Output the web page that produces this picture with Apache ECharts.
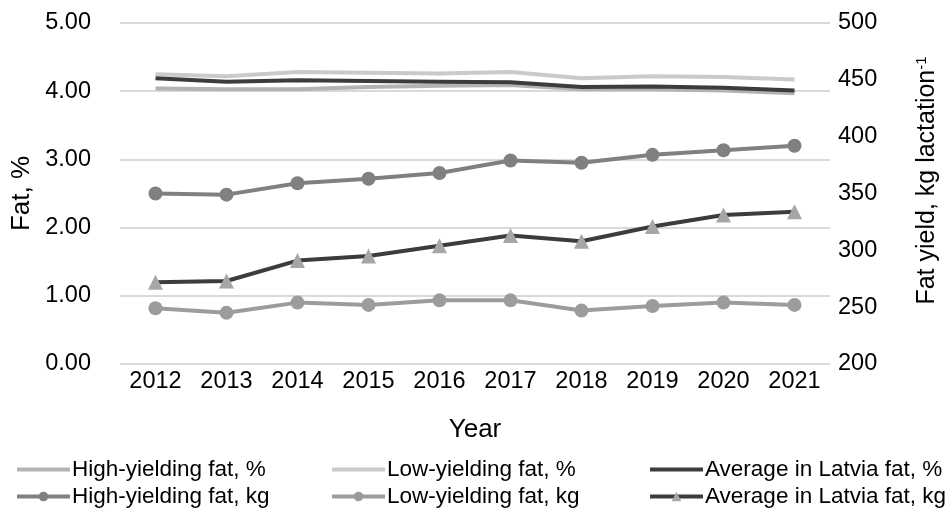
<!DOCTYPE html>
<html><head><meta charset="utf-8">
<script src="https://cdn.jsdelivr.net/npm/echarts@6/dist/echarts.min.js"></script>
<style>html,body{margin:0;padding:0;background:#fff}#c{width:950px;height:513px}</style>
</head><body><div id="c"></div>
<script>
const years = ['2012','2013','2014','2015','2016','2017','2018','2019','2020','2021'];
const highPct = [4.04,4.03,4.03,4.06,4.08,4.09,4.03,4.03,4.01,3.97];
const lowPct = [4.25,4.22,4.28,4.27,4.26,4.28,4.19,4.22,4.21,4.17];
const avgPct = [4.19,4.14,4.16,4.15,4.14,4.13,4.06,4.07,4.05,4.01];
const highKg = [350,349,359,363,368,379,377,384,388,392];
const lowKg = [249,245,254,252,256,256,247,251,254,252];
const avgKg = [272,273,291,295,304,313,308,321,331,334];
const leftTicks = [0,1,2,3,4,5];
const rightTicks = [200,250,300,350,400,450,500];

const font = 'Liberation Sans, Arial, sans-serif';
const chart = echarts.init(document.getElementById('c'));
const legendBase = {orient:'vertical', top:453, itemWidth:53, itemHeight:12, itemGap:4,
  lineStyle:{width:4},
  textStyle:{fontFamily:font, fontSize:22.5, color:'#000', padding:[0,0,0,-3]}};
const noMark = {color:'rgba(0,0,0,0)', opacity:0, borderWidth:0};
chart.setOption({
  animation:false,
  textStyle:{fontFamily:font},
  grid:{left:120, right:120, top:23, bottom:149},
  legend:[
    Object.assign({}, legendBase, {left:10, data:[{name:'High-yielding fat, %', itemStyle:noMark},'High-yielding fat, kg']}),
    Object.assign({}, legendBase, {left:325, data:[{name:'Low-yielding fat, %', itemStyle:noMark},'Low-yielding fat, kg']}),
    Object.assign({}, legendBase, {left:643, data:[{name:'Average in Latvia fat, %', itemStyle:noMark},'Average in Latvia fat, kg']})
  ],
  xAxis:{type:'category', data:years, boundaryGap:true,
    axisLine:{show:false}, axisTick:{show:false},
    axisLabel:{fontSize:23.5, color:'#000', margin:6, fontFamily:font},
    name:'Year', nameLocation:'middle', nameGap:53,
    nameTextStyle:{fontSize:26, color:'#000', fontFamily:font}},
  yAxis:[
    {type:'value', min:leftTicks[0], max:leftTicks[leftTicks.length-1], interval:1,
     axisLabel:{fontSize:23.5, color:'#000', margin:29, fontFamily:font, formatter:v=>v.toFixed(2)},
     splitLine:{lineStyle:{color:'#d9d9d9', width:2}}, axisLine:{show:false}, axisTick:{show:false},
     name:'Fat, %', nameLocation:'middle', nameGap:83,
     nameTextStyle:{fontSize:26, color:'#000', fontFamily:font}},
    {type:'value', min:rightTicks[0], max:rightTicks[rightTicks.length-1], interval:50,
     axisLabel:{fontSize:23.5, color:'#000', margin:8, fontFamily:font},
     splitLine:{show:false}, axisLine:{show:false}, axisTick:{show:false},
     name:'Fat yield, kg lactation{sup|-1}', nameLocation:'middle', nameGap:84,
     nameTextStyle:{fontSize:25, color:'#000', fontFamily:font, padding:[0,0,0,26],
       rich:{sup:{fontSize:15, verticalAlign:'top', color:'#000', fontFamily:font, padding:[0,0,12,0]}}}}
  ],
  series:[
    {name:'High-yielding fat, %', type:'line', data:highPct, yAxisIndex:0, symbol:'none',
     lineStyle:{color:'#b3b3b3', width:4}, itemStyle:{color:'#b3b3b3'}},
    {name:'Low-yielding fat, %', type:'line', data:lowPct, yAxisIndex:0, symbol:'none',
     lineStyle:{color:'#cacaca', width:4}, itemStyle:{color:'#cacaca'}},
    {name:'Average in Latvia fat, %', type:'line', data:avgPct, yAxisIndex:0, symbol:'none',
     lineStyle:{color:'#3c3c3c', width:4}, itemStyle:{color:'#3c3c3c'}},
    {name:'High-yielding fat, kg', type:'line', data:highKg, yAxisIndex:1, symbol:'circle', symbolSize:14,
     lineStyle:{color:'#808080', width:4}, itemStyle:{color:'#808080'}},
    {name:'Low-yielding fat, kg', type:'line', data:lowKg, yAxisIndex:1, symbol:'circle', symbolSize:14,
     lineStyle:{color:'#9c9c9c', width:4}, itemStyle:{color:'#9c9c9c'}},
    {name:'Average in Latvia fat, kg', type:'line', data:avgKg, yAxisIndex:1, symbol:'triangle', symbolSize:15,
     lineStyle:{color:'#3c3c3c', width:4}, itemStyle:{color:'#a6a6a6'}}
  ]
});
</script></body></html>
